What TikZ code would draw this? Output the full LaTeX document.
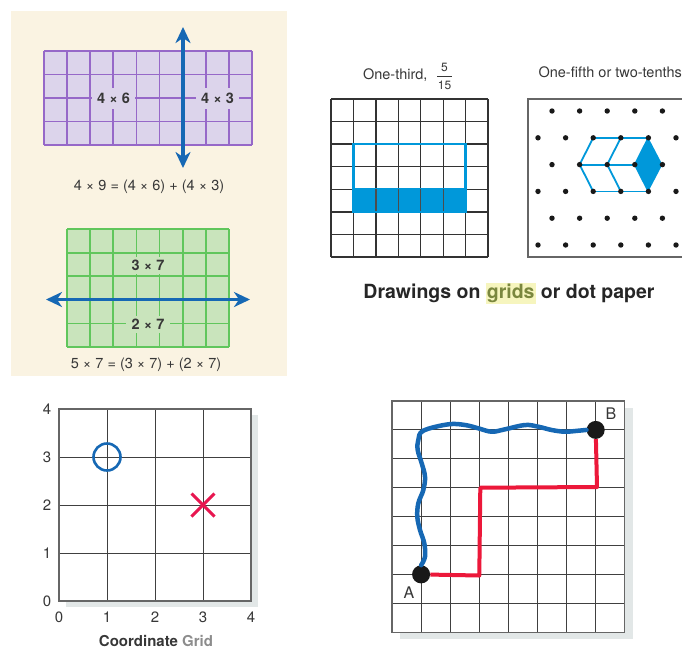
\documentclass[tikz,border=0pt]{standalone}
\usepackage{fontspec}
\setmainfont{TeX Gyre Heros}
\usepackage{tikz}
\usetikzlibrary{arrows.meta, positioning, shapes.misc}

\definecolor{panelcream}{RGB}{250,243,226}
\definecolor{lavender}{RGB}{220,212,235}
\definecolor{gridpurple}{RGB}{150,104,200}
\definecolor{mintgreen}{RGB}{201,228,188}
\definecolor{gridgreen}{RGB}{96,198,92}
\definecolor{arrowblue}{RGB}{22,104,180}
\definecolor{brightblue}{RGB}{0,152,218}
\definecolor{darktext}{RGB}{55,55,55}
\definecolor{hlyellow}{RGB}{246,245,190}
\definecolor{olivetext}{RGB}{122,135,62}
\definecolor{lightgraytext}{RGB}{140,140,140}
\definecolor{shadowgray}{RGB}{226,231,231}
\definecolor{pathred}{RGB}{236,24,58}
\definecolor{crossred}{RGB}{232,22,80}

\tikzset{
	purpleline/.style={line width=1.8pt, draw=gridpurple}
}
\tikzset{
	greenline/.style={line width=1.8pt, draw=gridgreen}
}
\tikzset{
	thinline/.style={line width=1pt, draw=black!75}
}
\tikzset{
	bluearrow/.style={line width=3.5pt, draw=arrowblue,
		{Stealth[length=16pt,width=15pt,inset=5pt]}-{Stealth[length=16pt,width=15pt,inset=5pt]}}
}
\tikzset{
	eqtext/.style={font=\fontsize{14.5}{17}\selectfont, text=darktext, anchor=base}
}
\tikzset{
	purplelabel/.style={font=\fontsize{14.5}{17}\selectfont\bfseries, text=darktext,
		fill=lavender, inner xsep=5pt, inner ysep=5pt}
}
\tikzset{
	greenlabel/.style={font=\fontsize{14.5}{17}\selectfont\bfseries, text=darktext,
		fill=mintgreen, inner xsep=6pt, inner ysep=3.5pt}
}
\tikzset{
	axistext/.style={font=\fontsize{15}{18}\selectfont, text=darktext}
}
\tikzset{
	dotpt/.style={circle, fill=black!90, inner sep=0pt, minimum size=18pt}
}

\begin{document}
\begin{tikzpicture}[x=1pt, y=-1pt]
  \useasboundingbox (0,0) rectangle (682,649);
  \clip (0,0) rectangle (682,649);

  % purple and green area models
  \fill[panelcream] (11,11) rectangle (287,376);
  \begin{scope}[shift={(44,51)}]
    \fill[lavender] (0,0) rectangle (208,94);
    \foreach \i in {0,...,9}
      \draw[purpleline] (\i*23.111,0) -- (\i*23.111,94);
    \foreach \j in {0,...,4}
      \draw[purpleline] (0,\j*23.5) -- (208,\j*23.5);
  \end{scope}
  \node[purplelabel] (foursix) at (113.5,98.5) {4 × 6};
  \node[purplelabel] (fourthree) at (217.5,98.5) {4 × 3};
  \coordinate (vtop) at (183,27);
  \coordinate (vbot) at (183,168);
  \draw[bluearrow] (vtop) -- (vbot);
  \node[eqtext] (eqnine) at (149,190) {4 × 9 = (4 × 6) + (4 × 3)};

  \begin{scope}[shift={(67,229)}]
    \fill[mintgreen] (0,0) rectangle (162,118);
    \foreach \i in {0,...,7}
      \draw[greenline] (\i*23.143,0) -- (\i*23.143,118);
    \foreach \j in {0,...,5}
      \draw[greenline] (0,\j*23.6) -- (162,\j*23.6);
  \end{scope}
  \node[greenlabel] (threeseven) at (148,265.5) {3 × 7};
  \node[greenlabel] (twoseven) at (148,324.5) {2 × 7};
  \coordinate (hleft) at (46,299.5);
  \coordinate (hright) at (250,299.5);
  \draw[bluearrow] (hleft) -- (hright);
  \node[eqtext] (eqfive) at (146,368) {5 × 7 = (3 × 7) + (2 × 7)};

  % one-third grid
  \node[eqtext, anchor=base east] (onethird) at (431,79) {One-third,};
  \node[font=\fontsize{12}{14}\selectfont, text=darktext, anchor=base] (fnum) at (444.5,71) {5};
  \node[font=\fontsize{12}{14}\selectfont, text=darktext, anchor=base] (fden) at (444.5,89.3) {15};
  \draw[darktext, line width=0.8pt] (437,76) -- (452,76);
  \begin{scope}[shift={(331,99)}]
    \foreach \i in {0,...,7}
      \draw[line width=1.3pt, black!80] (\i*22.43,0) -- (\i*22.43,158);
    \foreach \j in {0,...,7}
      \draw[line width=1.3pt, black!80] (0,\j*22.57) -- (157,\j*22.57);
    \filldraw[brightblue, line width=2.2pt] (22.43,4*22.57) rectangle (6*22.43,5*22.57);
    \foreach \i in {2,...,5}
      \draw[line width=1.3pt, black!70] (\i*22.43,4*22.57) -- (\i*22.43,5*22.57);
    \draw[brightblue, line width=2.2pt] (22.43,2*22.57) rectangle (6*22.43,5*22.57);
  \end{scope}

  % dot paper
  \node[eqtext, anchor=base west] (onefifth) at (535,77.3) {One-fifth or two-tenths};
  \draw[line width=1.4pt, black!60] (528,99) rectangle (700,257);
  \begin{scope}[brightblue, line width=1.8pt, line join=round]
    \fill (648.4,137.8) -- (634.8,164.6) -- (648.4,191.4) -- (662.4,164.6) -- cycle;
    \draw (593.2,137.8) -- (648.4,137.8);
    \draw (579.6,164.6) -- (634.8,164.6);
    \draw (593.2,191.4) -- (648.4,191.4);
    \foreach \x in {593.2,620.8,648.4}
      \draw (\x,137.8) -- (\x-13.6,164.6) -- (\x,191.4);
  \end{scope}
  \foreach \r in {0,2,4}
    \foreach \k in {0,...,5}
      \fill[black!90] (552+\k*27.6,111+\r*26.8) circle (2.7pt);
  \foreach \r in {1,3,5}
    \foreach \k in {0,...,5}
      \fill[black!90] (538+\k*27.6,111+\r*26.8) circle (2.7pt);

  \node[font=\fontsize{19.5}{23}\selectfont\bfseries, text=black!85, anchor=base] (caption) at (509,298.3)
    {Drawings on {\setlength{\fboxsep}{1pt}\colorbox{hlyellow}{\textcolor{olivetext}{grids}}} or dot paper};

  % coordinate grid
  \begin{scope}[shift={(59,409)}]
    \fill[shadowgray] (7,6) rectangle (199,198);
    \fill[white] (0,0) rectangle (192,192);
    \foreach \i in {0,...,4} {
      \draw[thinline] (\i*48,0) -- (\i*48,192);
      \draw[thinline] (0,\i*48) -- (192,\i*48);
    }
    \draw[line width=1.2pt, black!60] (0,0) rectangle (192,192);
  \end{scope}
  \foreach \n in {0,...,4} {
    \node[axistext] (ylab\n) at (47,601-48*\n) {\n};
    \node[axistext] (xlab\n) at (59+48*\n,617) {\n};
  }
  \node[circle, draw=arrowblue, line width=2.6pt, minimum size=27pt, inner sep=0pt] (opoint) at (107,457) {};
  \node[cross out, draw=crossred, line width=3pt, minimum size=20pt, inner sep=0pt] (xpoint) at (203,505) {};
  \node[font=\fontsize{15}{18}\selectfont\bfseries, text=darktext, anchor=base] (coordcap) at (156,646.7)
    {Coordinate \textcolor{lightgraytext}{Grid}};

  % paths from A to B
  \begin{scope}[shift={(392,401)}]
    \fill[shadowgray] (8,7) rectangle (241,238);
    \fill[white] (0,0) rectangle (232.8,231.2);
    \foreach \i in {0,...,8} {
      \draw[thinline] (\i*29.1,0) -- (\i*29.1,231.2);
      \draw[thinline] (0,\i*28.9) -- (232.8,\i*28.9);
    }
    \draw[line width=1.2pt, black!60] (0,0) rectangle (232.8,231.2);
  \end{scope}
  \node[dotpt] (A) at (421.1,574.4) {};
  \node[dotpt] (B) at (595.7,429.9) {};
  \node[axistext, font=\fontsize{16}{19}\selectfont] (Alab) at (409,593) {A};
  \node[axistext, font=\fontsize{16}{19}\selectfont] (Blab) at (611,414) {B};
  \coordinate (rone) at (479.3,575.5);
  \coordinate (rtwo) at (480.3,487.7);
  \coordinate (rthree) at (597,487);
  \draw[pathred, line width=4pt, line join=round]
    (A) -- (rone) -- (rtwo) -- (rthree) -- (B);
  \draw[arrowblue, line width=4.5pt, line cap=round] plot[smooth, tension=0.6] coordinates {
    (A.north) (425,556.7) (424.3,543.3) (420,530) (417.3,516.7) (418.3,503.3)
    (423.3,490) (425,476.7) (421.7,463.3) (417.7,450) (418.3,440) (423.3,430.7)
    (448.3,424.3) (465,425) (478.3,428.3) (491.7,431.7) (505,429.3) (525,425)
    (538.3,426.7) (551.7,430) (565,431.7) (578.3,430.7) (B.west)};
\end{tikzpicture}
\end{document}
